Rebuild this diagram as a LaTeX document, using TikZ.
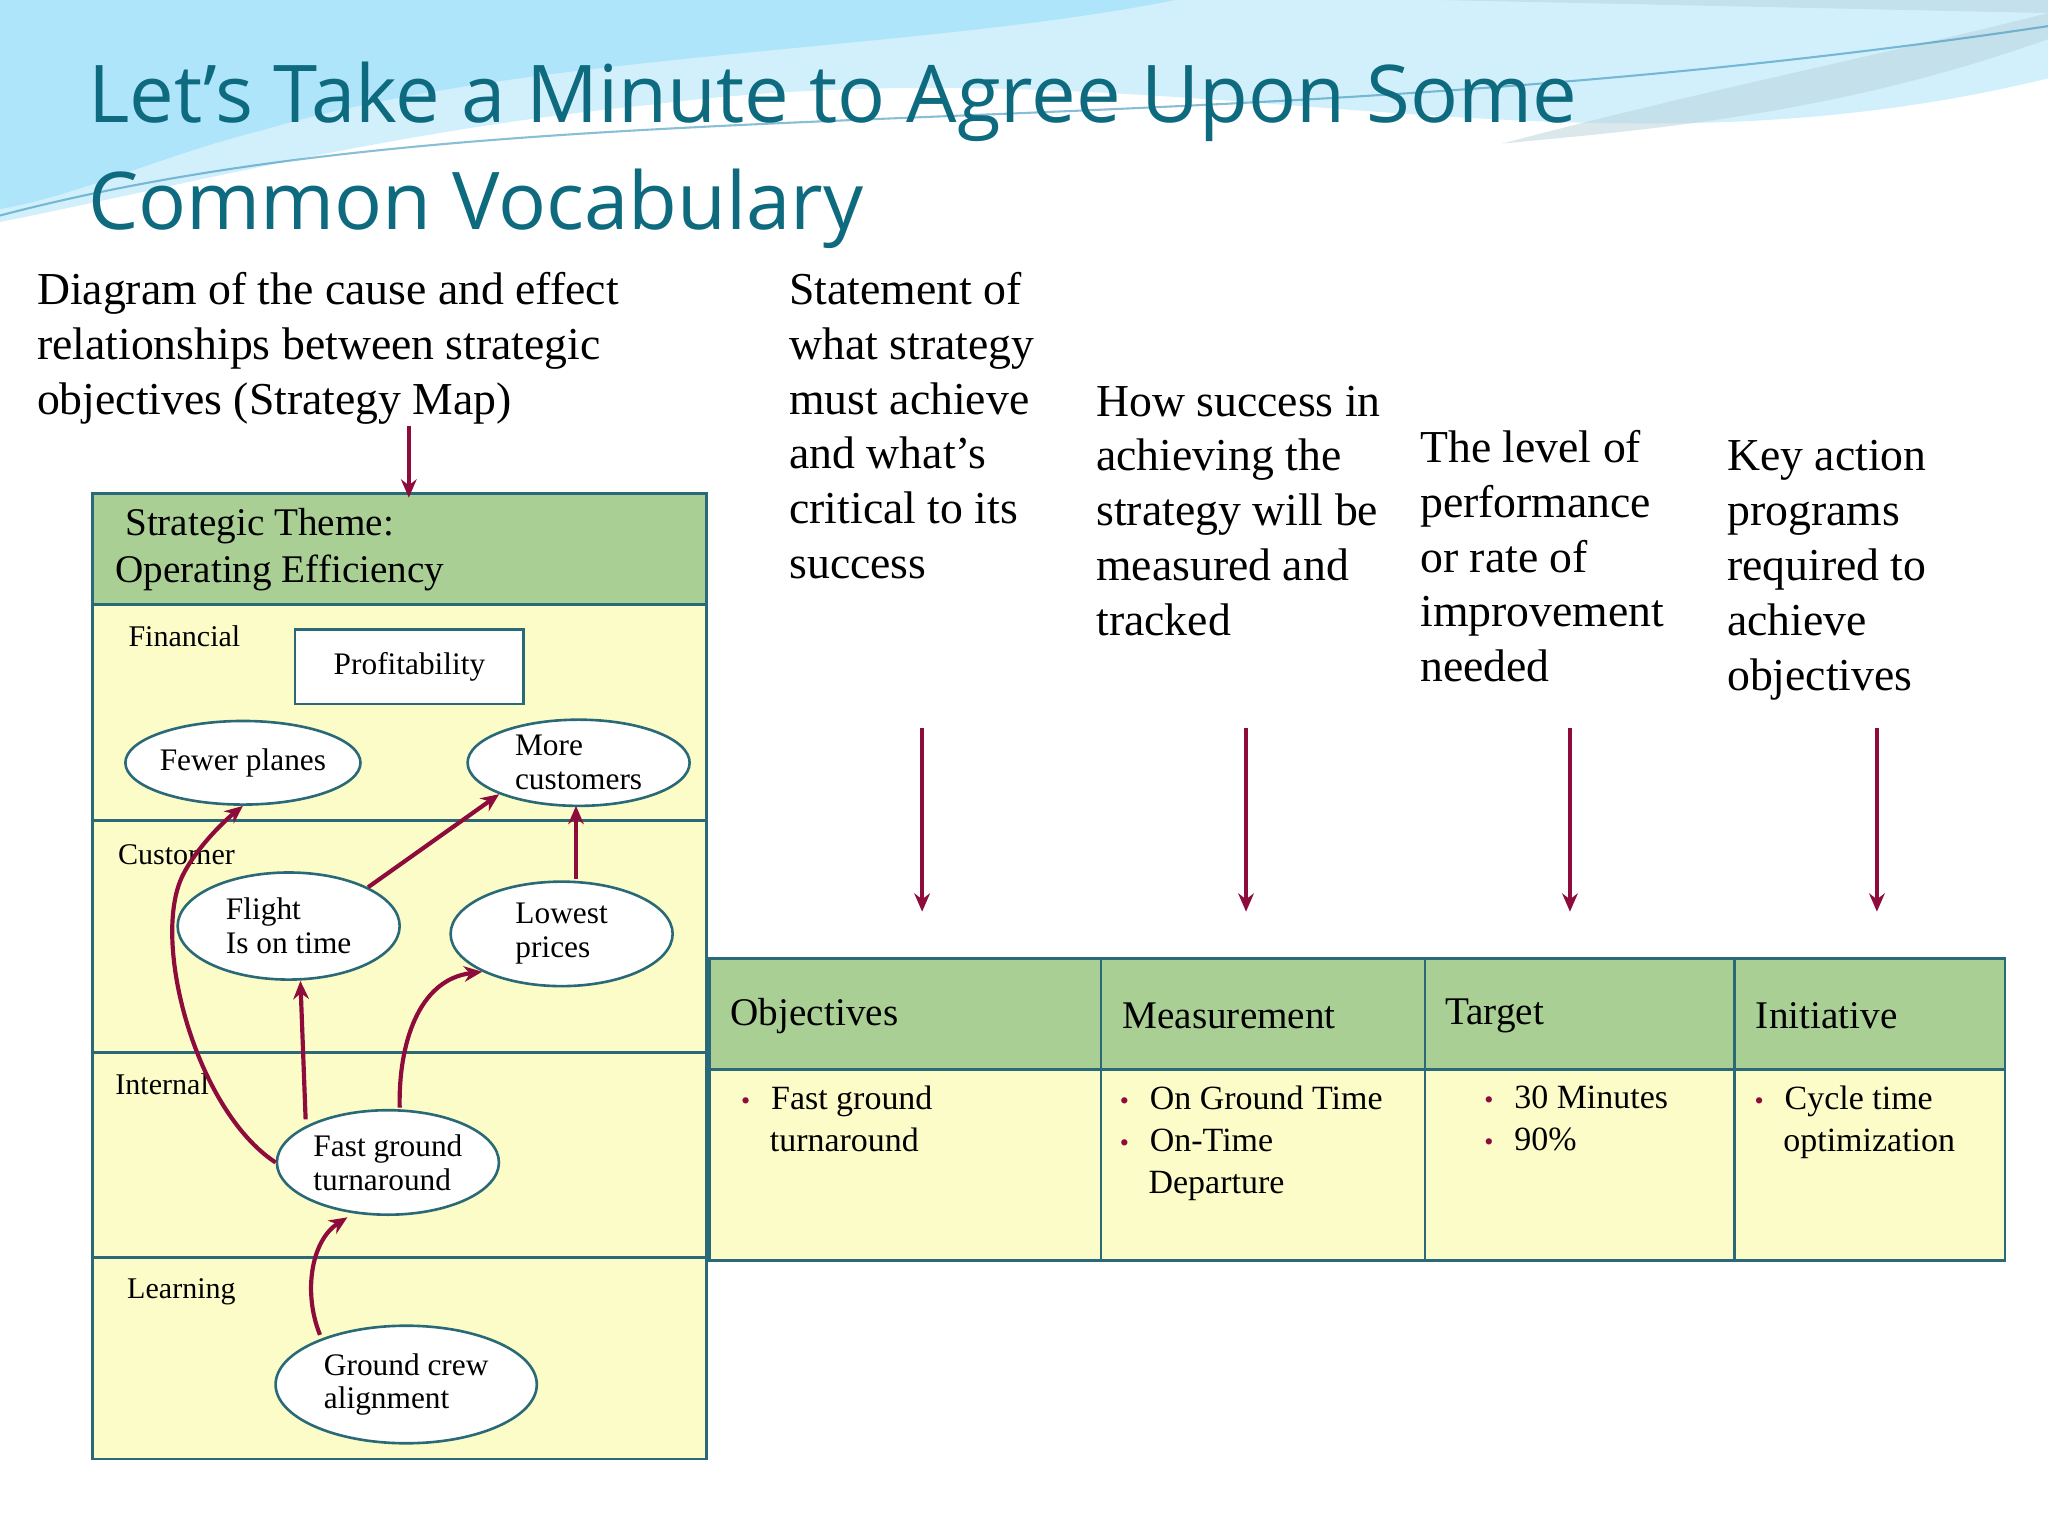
\documentclass[tikz,border=0pt]{standalone}
\usepackage{fontspec}
\setmainfont{Liberation Serif}
\newfontfamily\ttl{Open Sans}
\usetikzlibrary{shapes.geometric,arrows.meta}
\definecolor{teal}{HTML}{0E6A7E}
\definecolor{bd}{HTML}{2A6A78}
\definecolor{gr}{HTML}{AACF94}
\definecolor{yl}{HTML}{FCFCC8}
\definecolor{ar}{HTML}{8E0C3C}
\newcommand{\bul}{\textcolor{ar}{\fontsize{10}{10}\selectfont\textbullet}\hspace{8pt}}
\begin{document}
\begin{tikzpicture}[x=0.5pt,y=-0.5pt,
 arr/.style={draw=ar,line width=1.6pt,-{Stealth[length=7pt,width=6pt]}},
 ell/.style={ellipse,draw=bd,line width=1pt,fill=white,font=\fontsize{12}{13}\selectfont,align=left,inner sep=0pt},
 body/.style={anchor=north west,align=left,inner sep=0pt,font=\fontsize{17.5}{21}\selectfont},
 hd/.style={anchor=west,inner sep=0pt,font=\fontsize{15}{18}\selectfont},
 cell/.style={anchor=north west,align=left,inner sep=0pt,font=\fontsize{13}{16}\selectfont},
 lab/.style={anchor=west,inner sep=0pt,font=\fontsize{11.5}{13}\selectfont}]
\useasboundingbox (0,0) rectangle (1568,1176);
% waves
\fill[cyan!25,opacity=0.7] (0,0) -- (1568,0) -- (1568,60) .. controls (1200,150) and (900,30) .. (500,80) .. controls (300,100) and (150,140) .. (0,170) -- cycle;
\fill[cyan!45,opacity=0.5] (0,0) -- (900,0) .. controls (700,40) and (400,40) .. (200,100) .. controls (120,120) and (60,150) .. (0,160) -- cycle;
\fill[teal!30,opacity=0.5] (1100,0) -- (1568,0) -- (1568,30) .. controls (1400,90) and (1250,100) .. (1150,110) .. controls (1300,70) and (1450,40) .. (1568,10) -- cycle;
\draw[cyan!50!teal,line width=0.8pt,opacity=0.6] (0,165) .. controls (400,60) and (900,120) .. (1568,20);
% title
\node[anchor=west,inner sep=0pt,text=teal,font=\ttl\fontsize{30.5}{36}\selectfont] (t1) at (67,78) {Let’s Take a Minute to Agree Upon Some};
\node[anchor=west,inner sep=0pt,text=teal,font=\ttl\fontsize{30.5}{36}\selectfont] (t2) at (67,160) {Common Vocabulary};
% descriptive texts
\node[body] (d1) at (28,208) {Diagram of the cause and effect\\relationships between strategic\\objectives (Strategy Map)};
\node[body] (d2) at (604,208) {Statement of\\what strategy\\must achieve\\and what’s\\critical to its\\success};
\node[body] (d3) at (839,295) {How success in\\achieving the\\strategy will be\\measured and\\tracked};
\node[body] (d4) at (1087,329) {The level of\\performance\\or rate of\\improvement\\needed};
\node[body] (d5) at (1322,337) {Key action\\programs\\required to\\achieve\\objectives};
% left box
\fill[yl] (71,463) rectangle (541,1117);
\fill[gr] (71,378) rectangle (541,463);
\draw[bd,line width=1pt] (71,378) rectangle (541,1117);
\foreach \y in {463,628,806,963} \draw[bd,line width=1pt] (71,\y) -- (541,\y);
\node[anchor=north west,align=left,inner sep=0pt,font=\fontsize{15}{18}\selectfont] (st) at (88,389) {\ Strategic Theme:\\Operating Efficiency};
\node[lab] (lf) at (98,487) {Financial};
\node[lab] (lc) at (90,654) {Customer};
\node[lab] (li) at (88,830) {Internal};
\node[lab] (ll) at (97,989) {Learning};
\node[draw=bd,line width=1pt,fill=white,minimum width=87.5pt,minimum height=28.5pt,font=\fontsize{12}{13}\selectfont] (pr) at (313.5,510.5) {Profitability};
\node[ell,minimum width=88pt,minimum height=32pt] (fp) at (186,584) {Fewer planes};
\node[ell,minimum width=85pt,minimum height=33pt] (mc) at (443,584) {More\\customers};
\node[ell,minimum width=85pt,minimum height=41pt] (fl) at (221,709) {Flight\\Is on time};
\node[ell,minimum width=85pt,minimum height=40pt] (lp) at (430,715) {Lowest\\prices};
\node[ell,minimum width=85pt,minimum height=40pt] (fg) at (297,890) {Fast ground\\turnaround};
\node[ell,minimum width=100pt,minimum height=45pt] (gc) at (311,1060) {Ground crew\\alignment};
\draw[arr] (fl.north east) -- (mc.south west);
\coordinate (lpn) at (441,673);
\draw[arr] (lpn) -- (441,617);
\coordinate (fgl) at (234,857);
\draw[arr] (fgl) -- (230,751);
\coordinate (fgn) at (306,848);
\draw[arr] (fgn) .. controls (305,800) and (320,750) .. (lp.south west);
\draw[arr] (fg.west) .. controls (150,850) and (115,720) .. (140,670) .. controls (150,650) and (170,630) .. (fp.south);
\coordinate (gcn) at (245,1022);
\draw[arr] (gcn) .. controls (232,990) and (238,950) .. (266,932);
\coordinate (ta) at (313,326);
\draw[arr] (ta) -- (313,381);
% table
\fill[yl] (543,819) rectangle (1535,965);
\fill[gr] (543,734) rectangle (1535,819);
\draw[bd,line width=1pt] (543,734) rectangle (1535,965) (543,819) -- (1535,819);
\foreach \x in {843,1091,1328} \draw[bd,line width=1pt] (\x,734) -- (\x,965);
\node[hd] (h1) at (559,778) {Objectives};
\node[hd] (h2) at (859,778) {Measurement};
\node[hd] (h3) at (1106,778) {Target};
\node[hd] (h4) at (1344,778) {Initiative};
\node[cell] (c1) at (567,831) {\bul Fast ground\\\hspace{11pt}turnaround};
\node[cell] (c2) at (857,831) {\bul On Ground Time\\\bul On-Time\\\hspace{11pt}Departure};
\node[cell] (c3) at (1136,831) {\bul 30 Minutes\\\bul 90\%};
\node[cell] (c4) at (1343,831) {\bul Cycle time\\\hspace{11pt}optimization};
\foreach \x/\n in {706/a,954/b,1202/c,1437/d} {
  \coordinate (s\n) at (\x,557); \coordinate (e\n) at (\x,698);
  \draw[arr] (s\n) -- (e\n);}
\end{tikzpicture}
\end{document}
